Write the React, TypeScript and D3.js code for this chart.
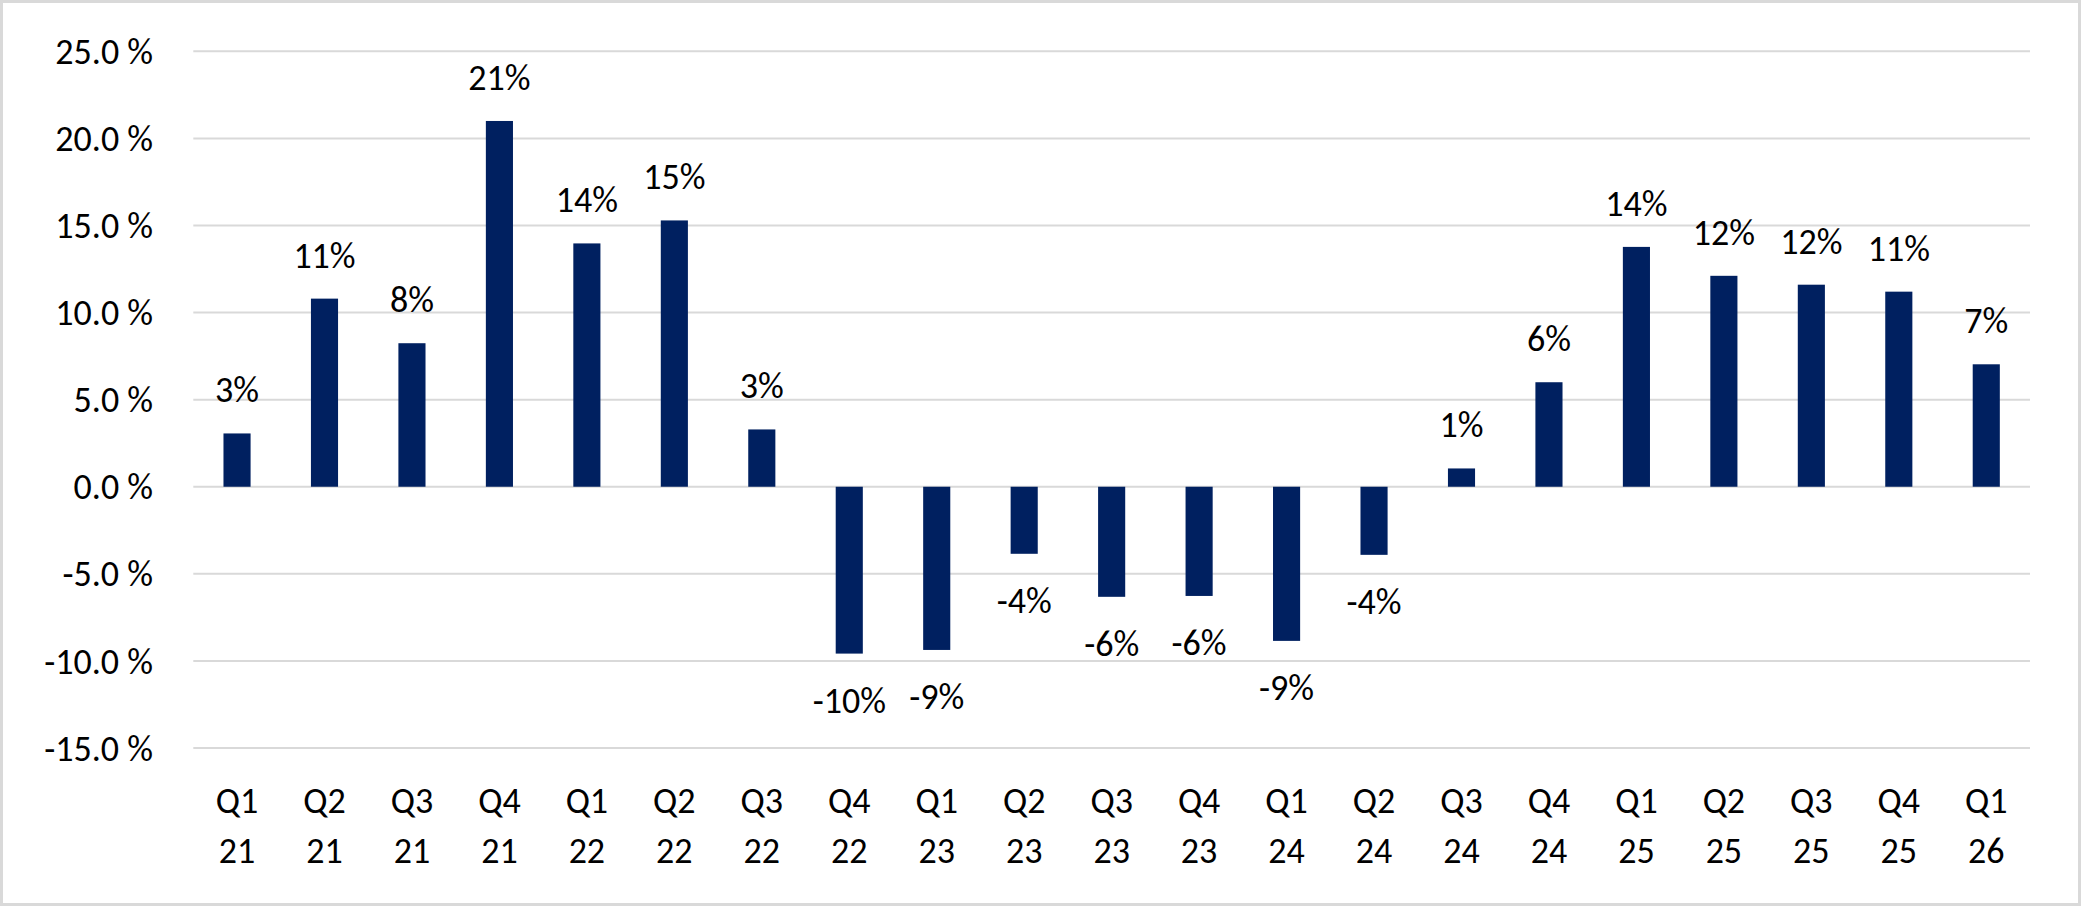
import { useEffect, useRef } from 'react';
import * as d3 from 'd3';

const quarters = ['Q1', 'Q2', 'Q3', 'Q4', 'Q1', 'Q2', 'Q3', 'Q4', 'Q1', 'Q2', 'Q3', 'Q4', 'Q1', 'Q2', 'Q3', 'Q4', 'Q1', 'Q2', 'Q3', 'Q4', 'Q1'];
const years = ['21', '21', '21', '21', '22', '22', '22', '22', '23', '23', '23', '23', '24', '24', '24', '24', '25', '25', '25', '25', '26'];
const growth = [3.06, 10.8, 8.24, 21.0, 13.97, 15.29, 3.29, -9.58, -9.37, -3.85, -6.32, -6.27, -8.85, -3.91, 1.05, 6.0, 13.77, 12.11, 11.6, 11.2, 7.03];
const yTicks = [-15, -10, -5, 0, 5, 10, 15, 20, 25];

const W = 2081;
const H = 906;
const FONT = 'Carlito, Calibri, Lato, sans-serif';

export default function App() {
  const ref = useRef<SVGSVGElement>(null);

  useEffect(() => {
    const svg = d3.select(ref.current);
    svg.selectAll('*').remove();

    const cats = quarters.map((q, i) => `${q}\n${years[i]}`);
    const x = d3.scaleBand().domain(cats).range([193.3, 2030]).paddingInner(0.69).paddingOuter(0.345);
    const y = d3.scaleLinear().domain([-15, 25]).range([748, 51.3]);

    // frame
    svg.append('rect').attr('x', 1.5).attr('y', 1.5).attr('width', W - 3).attr('height', H - 3)
      .attr('fill', '#fff').attr('stroke', '#d9d9d9').attr('stroke-width', 3);

    // gridlines
    svg.append('g').selectAll('line').data(yTicks).enter().append('line')
      .attr('x1', 193.3).attr('x2', 2030)
      .attr('y1', d => y(d)).attr('y2', d => y(d))
      .attr('stroke', '#d9d9d9').attr('stroke-width', 2);

    // y tick labels
    svg.append('g').selectAll('text').data(yTicks).enter().append('text')
      .attr('x', 153).attr('y', d => y(d)).attr('dy', '0.35em')
      .attr('text-anchor', 'end').attr('font-family', FONT).attr('font-size', 36).attr('fill', '#000')
      .text(d => `${d.toFixed(1)} %`);

    // bars
    svg.append('g').selectAll('rect').data(growth).enter().append('rect')
      .attr('x', (_, i) => x(cats[i])!)
      .attr('width', x.bandwidth())
      .attr('y', d => y(Math.max(0, d)))
      .attr('height', d => Math.abs(y(d) - y(0)))
      .attr('fill', '#002060');

    // data labels
    svg.append('g').selectAll('text').data(growth).enter().append('text')
      .attr('x', (_, i) => x(cats[i])! + x.bandwidth() / 2)
      .attr('y', d => d >= 0 ? y(d) - 31 : y(d) + 59)
      .attr('text-anchor', 'middle').attr('font-family', FONT).attr('font-size', 36).attr('fill', '#000')
      .text(d => `${Math.round(d)}%`);

    // category labels
    const xl = svg.append('g');
    cats.forEach(c => {
      c.split('\n').forEach((line, j) => {
        xl.append('text')
          .attr('x', x(c)! + x.bandwidth() / 2).attr('y', 813 + j * 50)
          .attr('text-anchor', 'middle').attr('font-family', FONT).attr('font-size', 36).attr('fill', '#000')
          .text(line);
      });
    });
  }, []);

  return (
    <svg ref={ref} width={W} height={H} viewBox={`0 0 ${W} ${H}`}
      style={{ position: 'absolute', left: 0, top: 0, background: '#fff' }} />
  );
}
